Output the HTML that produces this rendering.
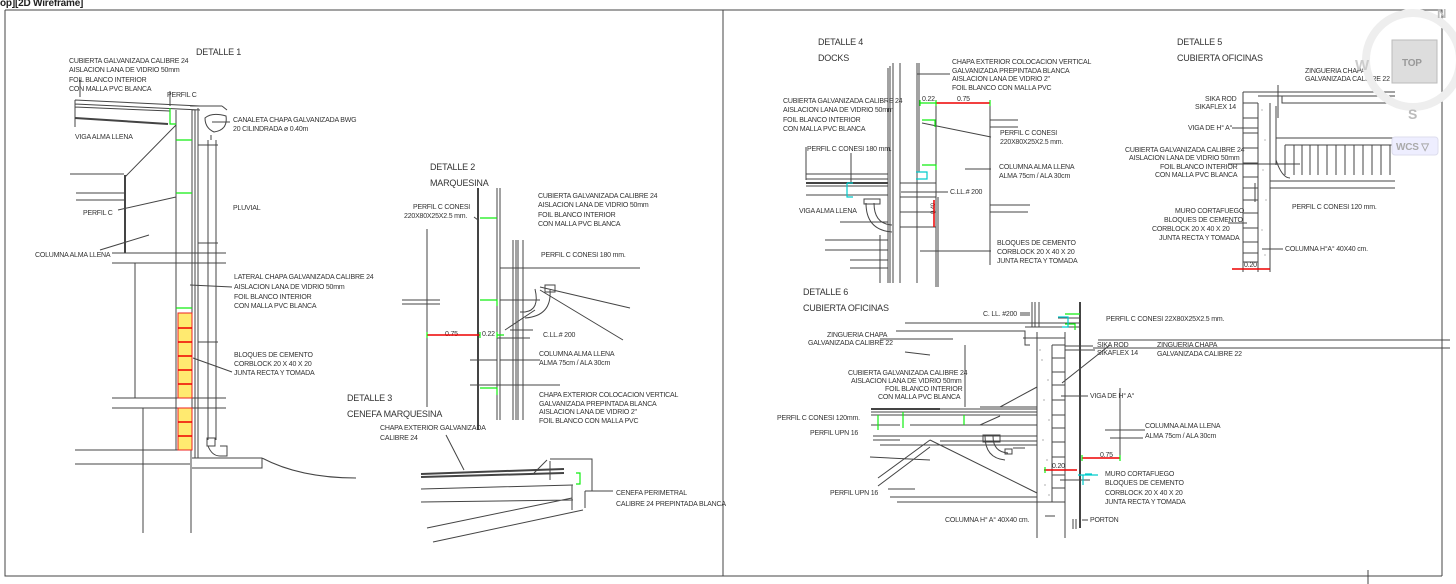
<!DOCTYPE html>
<html><head><meta charset="utf-8"><style>
html,body{margin:0;padding:0;background:#fff;overflow:hidden}
svg{display:block}
text{font-family:"Liberation Sans",sans-serif;font-size:7px;fill:#333;letter-spacing:-0.2px}
.t{font-size:9px}
.l{stroke:#444;stroke-width:1;fill:none}
.b{stroke:#444;stroke-width:2;fill:none}
.g{stroke:#1e1;stroke-width:1.2;fill:none}
.r{stroke:#e00;stroke-width:1.5;fill:none}
.c{stroke:#0cc;stroke-width:1.2;fill:none}
</style></head><body>
<svg width="1456" height="584" viewBox="0 0 1456 584" xmlns="http://www.w3.org/2000/svg">
<rect width="1456" height="584" fill="#fff"/>
<text x="0" y="6" style="font-size:10px;font-weight:bold;fill:#222">op][2D Wireframe]</text>
<path class="l" d="M5 10H1442V576M5 10V576H1442M723 10V576"/>
<line class="l" x1="1368" y1="570" x2="1368" y2="584"/>

<!-- ===== DETALLE 1 ===== -->
<text class="t" x="196" y="55">DETALLE 1</text>
<text x="69" y="63">CUBIERTA GALVANIZADA CALIBRE 24</text>
<text x="69" y="72">AISLACION LANA DE VIDRIO 50mm</text>
<text x="69" y="82">FOIL BLANCO INTERIOR</text>
<text x="69" y="91">CON MALLA PVC BLANCA</text>
<text x="167" y="97">PERFIL C</text>
<text x="233" y="122">CANALETA CHAPA GALVANIZADA BWG</text>
<text x="233" y="131">20 CILINDRADA ø 0.40m</text>
<text x="75" y="139">VIGA ALMA LLENA</text>
<text x="233" y="210">PLUVIAL</text>
<text x="83" y="215">PERFIL C</text>
<text x="35" y="257">COLUMNA ALMA LLENA</text>
<text x="234" y="279">LATERAL CHAPA GALVANIZADA CALIBRE 24</text>
<text x="234" y="289">AISLACION LANA DE VIDRIO 50mm</text>
<text x="234" y="299">FOIL BLANCO INTERIOR</text>
<text x="234" y="308">CON MALLA PVC BLANCA</text>
<text x="234" y="357">BLOQUES DE CEMENTO</text>
<text x="234" y="366">CORBLOCK 20 X 40 X 20</text>
<text x="234" y="375">JUNTA RECTA Y TOMADA</text>
<path class="l" d="M75 100L200 106M75 104L200 110M75 107L170 111M75 100V127M125 175V253M70 174H124M76 193H125M76 200H125M112 253H226M112 263H226M135 263V398M143 408V533M191 408V533M112 398H226M112 408H226M75 450H190M75 464H190M176 110V450M192 110V450M195 110V458M198 108V458M208 140V440M216 140V440M211 135V140M198 145H218M198 243H218M198 342H218M190 106H222M222 106L227 110"/>
<path class="b" d="M75 118L168 124M125 175V253"/>
<path class="l" d="M125 177L176 125M118 210L176 197M100 250L149 235M80 80V97M190 285L232 287M193 358L232 372M170 91V106M212 122L230 122"/>
<path class="l" d="M205 118Q212 112 226 116Q228 130 214 132Q205 128 205 118Z"/>
<path class="l" d="M207 438H215V446H207ZM208 446Q212 456 220 456M220 446H227V456H220M192 458H262V468H192M262 458Q300 478 356 478"/>
<path class="g" d="M170 108V124H176M176 140H192M176 193H192M176 308H192"/>
<rect x="178" y="313" width="14" height="85" fill="#ffea70" stroke="#e22" stroke-width="1"/>
<rect x="178" y="408" width="14" height="42" fill="#ffea70" stroke="#e22" stroke-width="1"/>
<path class="r" d="M178 328H192M178 342H192M178 356H192M178 370H192M178 384H192M178 422H192M178 436H192"/>

<!-- ===== DETALLE 2 ===== -->
<text class="t" x="430" y="170">DETALLE 2</text>
<text class="t" x="430" y="186">MARQUESINA</text>
<text x="413" y="209">PERFIL C CONESI</text>
<text x="404" y="218">220X80X25X2.5 mm.</text>
<text x="538" y="198">CUBIERTA GALVANIZADA CALIBRE 24</text>
<text x="538" y="207">AISLACION LANA DE VIDRIO 50mm</text>
<text x="538" y="217">FOIL BLANCO INTERIOR</text>
<text x="538" y="226">CON MALLA PVC BLANCA</text>
<text x="541" y="257">PERFIL C CONESI 180 mm.</text>
<text x="445" y="336">0.75</text><text x="482" y="336">0.22</text>
<text x="543" y="337">C.LL.# 200</text>
<text x="539" y="356">COLUMNA ALMA LLENA</text>
<text x="539" y="365">ALMA 75cm / ALA 30cm</text>
<text x="539" y="397">CHAPA EXTERIOR COLOCACION VERTICAL</text>
<text x="539" y="406">GALVANIZADA PREPINTADA BLANCA</text>
<text x="539" y="414">AISLACION LANA DE VIDRIO 2"</text>
<text x="539" y="423">FOIL BLANCO CON MALLA PVC</text>
<path class="l" d="M427 229V407M497 188V420M500 188V420M513 240V420M516 240V420M518 240V420M523 240V420M524 268H640M500 268H560M540 287L630 308M540 290L623 340M500 300H540M402 300H440M402 304H440M505 330L535 310M510 330H533M470 385H560M500 360H540M470 360H497M497 338H530M474 217L478 220"/>
<path class="b" d="M478 188V430"/>
<path class="l" d="M535 289Q540 310 525 312L520 312M550 290Q552 316 525 318M545 285V292H555V285Z"/>
<path class="g" d="M480 300H497V306M480 388H497V395M480 218H497M497 335H504"/>
<path class="r" d="M427 335H480"/>
<path class="g" d="M427 332V338M480 332V338M497 332V338"/>

<!-- ===== DETALLE 3 ===== -->
<text class="t" x="347" y="401">DETALLE 3</text>
<text class="t" x="347" y="417">CENEFA MARQUESINA</text>
<text x="380" y="430">CHAPA EXTERIOR GALVANIZADA</text>
<text x="380" y="440">CALIBRE 24</text>
<text x="616" y="495">CENEFA PERIMETRAL</text>
<text x="616" y="506">CALIBRE 24 PREPINTADA BLANCA</text>
<path class="l" d="M550 459H592V491H585M550 461V480M421 489L573 485M421 502L573 500M427 528L572 498M433 542L583 510M572 485V510M585 491V508M592 491H613M446 435L464 470M547 460L534 473"/>
<path class="b" d="M421 474L564 469M421 477L564 473"/>
<path class="g" d="M576 473H580V484H576"/>

<!-- ===== DETALLE 4 ===== -->
<text class="t" x="818" y="45">DETALLE 4</text>
<text class="t" x="818" y="61">DOCKS</text>
<text x="952" y="64">CHAPA EXTERIOR COLOCACION VERTICAL</text>
<text x="952" y="73">GALVANIZADA PREPINTADA BLANCA</text>
<text x="952" y="81">AISLACION LANA DE VIDRIO 2"</text>
<text x="952" y="90">FOIL BLANCO CON MALLA PVC</text>
<text x="783" y="103">CUBIERTA GALVANIZADA CALIBRE 24</text>
<text x="783" y="112">AISLACION LANA DE VIDRIO 50mm</text>
<text x="783" y="122">FOIL BLANCO INTERIOR</text>
<text x="783" y="131">CON MALLA PVC BLANCA</text>
<text x="922" y="101">0.22</text><text x="957" y="101">0.75</text>
<text x="1000" y="135">PERFIL C CONESI</text>
<text x="1000" y="144">220X80X25X2.5 mm.</text>
<text x="807" y="151">PERFIL C CONESI 180 mm.</text>
<text x="999" y="169">COLUMNA ALMA LLENA</text>
<text x="999" y="178">ALMA 75cm / ALA 30cm</text>
<text x="950" y="194">C.LL.# 200</text>
<text x="799" y="213">VIGA ALMA LLENA</text>
<text x="997" y="245">BLOQUES DE CEMENTO</text>
<text x="997" y="254">CORBLOCK 20 X 40 X 20</text>
<text x="997" y="263">JUNTA RECTA Y TOMADA</text>
<path class="l" d="M888 68V283M890 66V283M893 63V283M900 63V283M917 63V283M919 63V172M936 100V287M938 197V287M990 100V265M917 74H950M990 120H1018M990 127H1018M990 205H1030M990 212H1028M922 123L991 137M965 169H991M901 192H948M920 251H991M806 174H888M806 179H888M806 186H888M806 195H888M806 147V180M851 153V183M900 197H936M900 227H936M900 212H936M840 222H888M825 240H888M825 250H888M850 260H888M850 268H888M880 235V283M900 183H936"/>
<path class="b" d="M806 183H888"/>
<path class="l" d="M866 203Q866 230 892 232M874 203Q874 224 892 225M864 199H880V204H864Z"/>
<path class="g" d="M922 120H935V127M922 165H936V170"/>
<path class="c" d="M916 172H927V179H916M847 183V197H853M847 183H853"/>
<text x="931" y="218" transform="rotate(-90 931 214)" style="font-size:6px">0.40</text>
<path class="r" d="M936 103H990M934 200V227"/>
<path class="g" d="M920 100V106M936 100V106M990 100V106M920 103H936"/>

<!-- ===== DETALLE 5 ===== -->
<text class="t" x="1177" y="45">DETALLE 5</text>
<text class="t" x="1177" y="61">CUBIERTA OFICINAS</text>
<text x="1305" y="73">ZINGUERIA CHAPA</text>
<text x="1305" y="81">GALVANIZADA CALIBRE 22</text>
<text x="1205" y="101">SIKA ROD</text>
<text x="1195" y="109">SIKAFLEX 14</text>
<text x="1188" y="130">VIGA DE H° A°</text>
<text x="1125" y="152">CUBIERTA GALVANIZADA CALIBRE 24</text>
<text x="1129" y="160">AISLACION LANA DE VIDRIO 50mm</text>
<text x="1160" y="169">FOIL BLANCO INTERIOR</text>
<text x="1155" y="177">CON MALLA PVC BLANCA</text>
<text x="1292" y="209">PERFIL C CONESI 120 mm.</text>
<text x="1175" y="213">MURO CORTAFUEGO</text>
<text x="1164" y="222">BLOQUES DE CEMENTO</text>
<text x="1152" y="231">CORBLOCK 20 X 40 X 20</text>
<text x="1159" y="240">JUNTA RECTA Y TOMADA</text>
<text x="1285" y="251">COLUMNA H°A° 40X40 cm.</text>
<text x="1244" y="267">0.20</text>
<path class="l" d="M1243 92V272M1258 103V272M1270 103V272M1243 92H1395M1258 96H1282V103H1395M1276 96H1395M1243 103H1258M1243 118H1258M1243 133H1258M1243 148H1258M1243 163H1258M1243 177H1258M1243 188H1258M1243 200H1258M1243 213H1258M1243 228H1258M1243 242H1258M1243 253H1258M1243 262H1258M1232 128H1258M1228 164H1300M1228 223H1247M1262 249H1283M1278 85V118M1255 183V202M1276 138H1395M1270 181H1395M1270 188H1395M1276 106V165"/>
<path class="l" d="M1276 160Q1282 178 1290 178M1285 145V175M1294 145V175M1302 145V175M1310 145V175M1318 145V175M1327 145V175M1336 145V175M1345 145V175M1354 145V175M1363 145V175M1372 145V175M1381 145V175M1390 145V175M1285 145H1392"/>
<path class="r" d="M1232 269H1270"/>
<g fill="#888"><circle cx="1262" cy="110" r=".6"/><circle cx="1265" cy="140" r=".6"/><circle cx="1263" cy="170" r=".6"/><circle cx="1266" cy="200" r=".6"/><circle cx="1262" cy="230" r=".6"/><circle cx="1265" cy="255" r=".6"/></g>

<!-- nav cube -->
<circle cx="1413" cy="60" r="47" fill="none" stroke="#eee" stroke-width="8"/>
<text x="1437" y="18" style="font-size:13px;fill:#bbb;font-weight:bold">N</text>
<text x="1355" y="70" style="font-size:15px;fill:#ccc;font-weight:bold">W</text>
<rect x="1392" y="40" width="45" height="43" fill="#ddd" stroke="#bbb"/>
<text x="1402" y="66" style="font-size:10px;fill:#999;font-weight:bold">TOP</text>
<text x="1408" y="119" style="font-size:14px;fill:#bbb;font-weight:bold">S</text>
<rect x="1392" y="137" width="46" height="18" rx="3" fill="#eef" stroke="#dde"/>
<text x="1396" y="150" style="font-size:10px;fill:#aaa;font-weight:bold">WCS ▽</text>

<!-- ===== DETALLE 6 ===== -->
<text class="t" x="803" y="295">DETALLE 6</text>
<text class="t" x="803" y="311">CUBIERTA OFICINAS</text>
<text x="983" y="316">C. LL. #200</text>
<text x="1106" y="321">PERFIL C CONESI 22X80X25X2.5 mm.</text>
<text x="827" y="337">ZINGUERIA CHAPA</text>
<text x="808" y="345">GALVANIZADA CALIBRE 22</text>
<text x="1097" y="347">SIKA ROD</text>
<text x="1097" y="355">SIKAFLEX 14</text>
<text x="1157" y="347">ZINGUERIA CHAPA</text>
<text x="1157" y="356">GALVANIZADA CALIBRE 22</text>
<text x="848" y="375">CUBIERTA GALVANIZADA CALIBRE 24</text>
<text x="851" y="383">AISLACION LANA DE VIDRIO 50mm</text>
<text x="885" y="391">FOIL BLANCO INTERIOR</text>
<text x="878" y="399">CON MALLA PVC BLANCA</text>
<text x="1090" y="398">VIGA DE H° A°</text>
<text x="777" y="420">PERFIL C CONESI 120mm.</text>
<text x="810" y="435">PERFIL UPN 16</text>
<text x="1145" y="428">COLUMNA ALMA LLENA</text>
<text x="1145" y="438">ALMA 75cm / ALA 30cm</text>
<text x="1100" y="457">0.75</text>
<text x="1052" y="468">0.20</text>
<text x="1105" y="476">MURO CORTAFUEGO</text>
<text x="1105" y="485">BLOQUES DE CEMENTO</text>
<text x="1105" y="495">CORBLOCK 20 X 40 X 20</text>
<text x="1105" y="504">JUNTA RECTA Y TOMADA</text>
<text x="830" y="495">PERFIL UPN 16</text>
<text x="945" y="522">COLUMNA H° A° 40X40 cm.</text>
<text x="1090" y="522">PORTON</text>
<path class="l" d="M1037 332V538M1052 345V502M1065 332V538M1080 302V528M1037 502H1065M1025 327H1080M905 323H1080M896 331H1025V345H1030M1023 338H1065M1032 302V327M1035 302V327M1039 302V327M1020 315H1030M1052 345H1065M1052 358H1065M1052 372H1065M1052 385H1065M1052 400H1065M1052 415H1065M1052 428H1065M1052 442H1065M1052 457H1065M1052 475H1065M1052 488H1065M965 345V407M980 407H1037M1000 407L1037 387M871 409H1037M871 412H1037M871 415H1037M871 425H900M910 425H1037M873 436H1037M873 440H900M880 445H1037M940 441H1037M878 478L930 440M930 440L1037 493M878 486L930 447M888 489H915M890 497H1037M897 502H1037M870 457L930 460M1000 416L980 425H965M1065 346H1093M1065 350H1095M1098 340H1450M1093 348H1450M1062 383L1110 345M1073 519V529M1076 519V529M1013 448H1025M1060 480H1090M1061 396H1088M1120 388V456M1105 430H1145M1110 438H1143M1045 516H1055M1082 520H1088M1058 318H1080M1020 313H1030M953 339H880M905 352L930 355"/>
<path class="l" d="M985 436Q985 458 1005 460M993 436Q993 452 1008 453M983 435H1000V442H983ZM1005 449H1012V454H1005Z"/>
<path class="b" d="M871 409H940M1080 302V528"/>
<path class="g" d="M1065 314H1080M1065 324H1075V330M878 415V430M903 412V428M964 415V425"/>
<path class="c" d="M1058 317H1068V327H1062M1085 474H1092M1078 475H1098M1083 475V485"/>
<path class="r" d="M1082 458H1120M1044 470H1077"/>
<path class="g" d="M1082 455V461M1120 455V461M1045 467V473"/>
<g fill="#777"><circle cx="1042" cy="360" r=".6"/><circle cx="1048" cy="380" r=".6"/><circle cx="1044" cy="400" r=".6"/><circle cx="1049" cy="420" r=".6"/><circle cx="1043" cy="440" r=".6"/><circle cx="1047" cy="460" r=".6"/><circle cx="1045" cy="485" r=".6"/><circle cx="1049" cy="495" r=".6"/><circle cx="1040" cy="350" r=".6"/></g>
</svg>
</body></html>
